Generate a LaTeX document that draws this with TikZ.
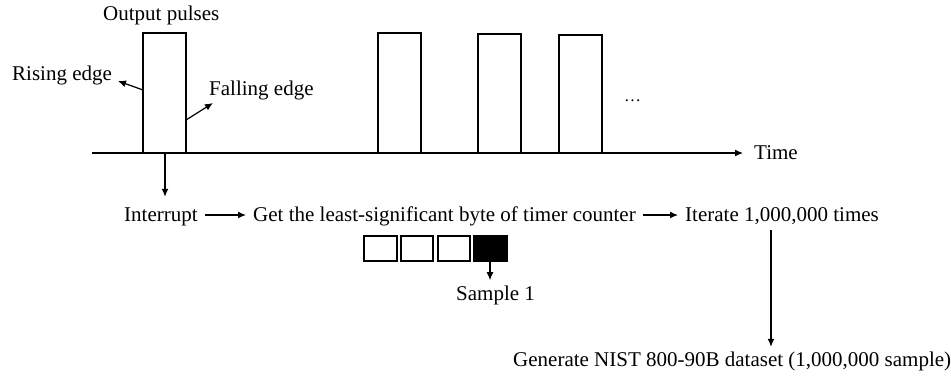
\documentclass[tikz,border=0pt]{standalone}
\usepackage{fontspec}
\setmainfont{Liberation Serif}
\usetikzlibrary{arrows.meta}
\tikzset{
  lbl/.style={font=\fontsize{21}{25}\selectfont, inner sep=0pt, anchor=base west},
  flow/.style={font=\fontsize{21}{25}\selectfont, inner xsep=7pt, inner ysep=0pt,
               text height=12pt, text depth=0pt, anchor=base west},
  ln/.style={line width=1.2pt},
  arr/.style={line width=1.2pt, -{Latex[length=8pt,width=7pt]}},
  pulse/.style={line width=1.2pt},
  cell/.style={line width=1.2pt},
}
\begin{document}
\begin{tikzpicture}[x=1pt,y=-1pt]
\useasboundingbox (0,0) rectangle (951,381);

% time axis and output pulses
\coordinate (t0) at (92,153);
\coordinate (t1) at (743,153);
\draw[arr] (t0) -- (t1);
\node[lbl] (time) at (754,159) {Time};
\node[lbl] (out) at (103,20) {Output pulses};

\draw[pulse] (143,153) -- (143,33) -- (186,33) -- (186,153);
\draw[pulse] (378,153) -- (378,33) -- (421,33) -- (421,153);
\draw[pulse] (478,153) -- (478,34) -- (521,34) -- (521,153);
\draw[pulse] (559,153) -- (559,35) -- (602,35) -- (602,153);
\node[lbl] (dots) at (624,101) {\fontsize{17}{20}\selectfont …};

% edge labels
\node[lbl] (rise) at (12,80) {Rising edge};
\node[lbl] (fall) at (209,95) {Falling edge};
\coordinate (riseA) at (143,90);
\coordinate (riseB) at (118,81);
\coordinate (fallA) at (186,120);
\coordinate (fallB) at (213,103);
\draw[arr] (riseA) -- (riseB);
\draw[arr] (fallA) -- (fallB);

% processing chain
\node[flow] (intr) at (117,221) {Interrupt};
\node[flow] (get) at (246,221) {Get the least-significant byte of timer counter};
\node[flow] (iter) at (678,221) {Iterate 1,000,000 times};
\node[flow] (gen) at (506,366) {Generate NIST 800-90B dataset (1,000,000 sample)};

\coordinate (trig) at (165,153);
\draw[arr] (trig) -- ([yshift=12pt]intr.north -| trig);
\draw[arr] (intr.east) -- (get.west);
\draw[arr] (get.east) -- (iter.west);
\coordinate (down) at (771,0);
\draw[arr] ([yshift=-9pt]iter.south -| down) -- ([yshift=7pt]gen.north -| down);

% byte cells of the counter
\draw[cell] (364,236) rectangle (397,261);
\draw[cell] (401,236) rectangle (433,261);
\draw[cell] (438,236) rectangle (470,261);
\draw[cell, fill=black] (474,236) rectangle (507,261);
\coordinate (lsb) at (490,261);
\node[lbl] (samp) at (456,300) {Sample 1};
\draw[arr] (lsb) -- ([yshift=5pt]samp.north -| lsb);
\end{tikzpicture}
\end{document}
